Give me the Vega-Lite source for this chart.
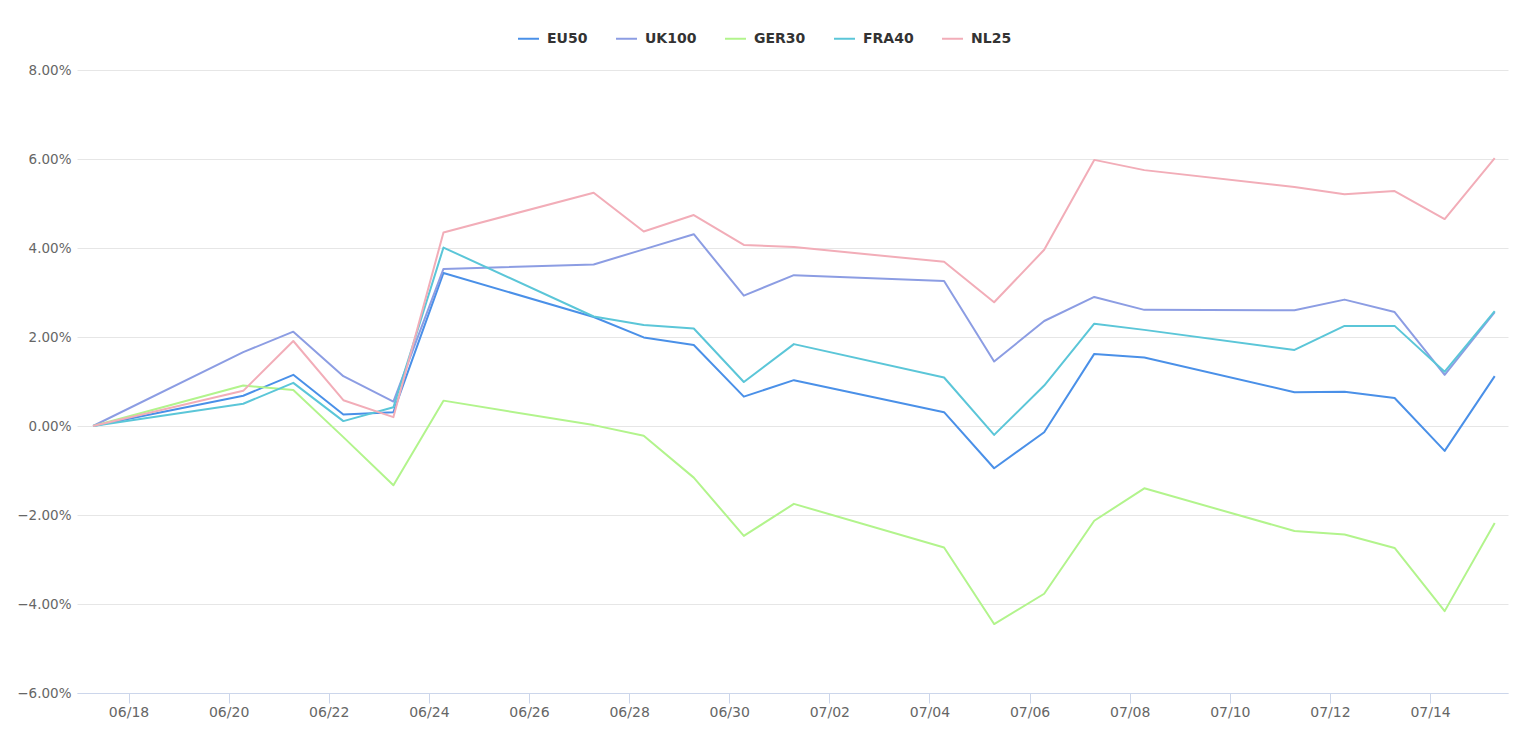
{
  "$schema": "https://vega.github.io/schema/vega-lite/v6.json",
  "autosize": "none",
  "width": 1431,
  "height": 623,
  "padding": {"left": 77, "top": 70, "right": 22, "bottom": 59},
  "background": "#ffffff",
  "data": {
    "values": [
      {"date": "2022-06-17T07:00", "series": "EU50", "value": 0},
      {"date": "2022-06-20T07:00", "series": "EU50", "value": 0.68},
      {"date": "2022-06-21T07:00", "series": "EU50", "value": 1.15},
      {"date": "2022-06-22T07:00", "series": "EU50", "value": 0.26},
      {"date": "2022-06-23T07:00", "series": "EU50", "value": 0.31},
      {"date": "2022-06-24T07:00", "series": "EU50", "value": 3.44},
      {"date": "2022-06-27T07:00", "series": "EU50", "value": 2.45},
      {"date": "2022-06-28T07:00", "series": "EU50", "value": 1.99},
      {"date": "2022-06-29T07:00", "series": "EU50", "value": 1.82},
      {"date": "2022-06-30T07:00", "series": "EU50", "value": 0.66},
      {"date": "2022-07-01T07:00", "series": "EU50", "value": 1.03},
      {"date": "2022-07-04T07:00", "series": "EU50", "value": 0.31},
      {"date": "2022-07-05T07:00", "series": "EU50", "value": -0.95},
      {"date": "2022-07-06T07:00", "series": "EU50", "value": -0.14},
      {"date": "2022-07-07T07:00", "series": "EU50", "value": 1.62},
      {"date": "2022-07-08T07:00", "series": "EU50", "value": 1.54},
      {"date": "2022-07-11T07:00", "series": "EU50", "value": 0.76},
      {"date": "2022-07-12T07:00", "series": "EU50", "value": 0.77},
      {"date": "2022-07-13T07:00", "series": "EU50", "value": 0.63},
      {"date": "2022-07-14T07:00", "series": "EU50", "value": -0.56},
      {"date": "2022-07-15T07:00", "series": "EU50", "value": 1.12},

      {"date": "2022-06-17T07:00", "series": "UK100", "value": 0},
      {"date": "2022-06-20T07:00", "series": "UK100", "value": 1.66},
      {"date": "2022-06-21T07:00", "series": "UK100", "value": 2.12},
      {"date": "2022-06-22T07:00", "series": "UK100", "value": 1.12},
      {"date": "2022-06-23T07:00", "series": "UK100", "value": 0.55},
      {"date": "2022-06-24T07:00", "series": "UK100", "value": 3.53},
      {"date": "2022-06-27T07:00", "series": "UK100", "value": 3.63},
      {"date": "2022-06-28T07:00", "series": "UK100", "value": 3.97},
      {"date": "2022-06-29T07:00", "series": "UK100", "value": 4.31},
      {"date": "2022-06-30T07:00", "series": "UK100", "value": 2.93},
      {"date": "2022-07-01T07:00", "series": "UK100", "value": 3.39},
      {"date": "2022-07-04T07:00", "series": "UK100", "value": 3.26},
      {"date": "2022-07-05T07:00", "series": "UK100", "value": 1.45},
      {"date": "2022-07-06T07:00", "series": "UK100", "value": 2.36},
      {"date": "2022-07-07T07:00", "series": "UK100", "value": 2.90},
      {"date": "2022-07-08T07:00", "series": "UK100", "value": 2.61},
      {"date": "2022-07-11T07:00", "series": "UK100", "value": 2.60},
      {"date": "2022-07-12T07:00", "series": "UK100", "value": 2.84},
      {"date": "2022-07-13T07:00", "series": "UK100", "value": 2.56},
      {"date": "2022-07-14T07:00", "series": "UK100", "value": 1.15},
      {"date": "2022-07-15T07:00", "series": "UK100", "value": 2.56},

      {"date": "2022-06-17T07:00", "series": "GER30", "value": 0},
      {"date": "2022-06-20T07:00", "series": "GER30", "value": 0.91},
      {"date": "2022-06-21T07:00", "series": "GER30", "value": 0.81},
      {"date": "2022-06-22T07:00", "series": "GER30", "value": -0.25},
      {"date": "2022-06-23T07:00", "series": "GER30", "value": -1.33},
      {"date": "2022-06-24T07:00", "series": "GER30", "value": 0.57},
      {"date": "2022-06-27T07:00", "series": "GER30", "value": 0.02},
      {"date": "2022-06-28T07:00", "series": "GER30", "value": -0.22},
      {"date": "2022-06-29T07:00", "series": "GER30", "value": -1.16},
      {"date": "2022-06-30T07:00", "series": "GER30", "value": -2.47},
      {"date": "2022-07-01T07:00", "series": "GER30", "value": -1.75},
      {"date": "2022-07-04T07:00", "series": "GER30", "value": -2.73},
      {"date": "2022-07-05T07:00", "series": "GER30", "value": -4.45},
      {"date": "2022-07-06T07:00", "series": "GER30", "value": -3.77},
      {"date": "2022-07-07T07:00", "series": "GER30", "value": -2.13},
      {"date": "2022-07-08T07:00", "series": "GER30", "value": -1.40},
      {"date": "2022-07-11T07:00", "series": "GER30", "value": -2.36},
      {"date": "2022-07-12T07:00", "series": "GER30", "value": -2.44},
      {"date": "2022-07-13T07:00", "series": "GER30", "value": -2.74},
      {"date": "2022-07-14T07:00", "series": "GER30", "value": -4.16},
      {"date": "2022-07-15T07:00", "series": "GER30", "value": -2.18},

      {"date": "2022-06-17T07:00", "series": "FRA40", "value": 0},
      {"date": "2022-06-20T07:00", "series": "FRA40", "value": 0.50},
      {"date": "2022-06-21T07:00", "series": "FRA40", "value": 0.97},
      {"date": "2022-06-22T07:00", "series": "FRA40", "value": 0.11},
      {"date": "2022-06-23T07:00", "series": "FRA40", "value": 0.42},
      {"date": "2022-06-24T07:00", "series": "FRA40", "value": 4.01},
      {"date": "2022-06-27T07:00", "series": "FRA40", "value": 2.46},
      {"date": "2022-06-28T07:00", "series": "FRA40", "value": 2.27},
      {"date": "2022-06-29T07:00", "series": "FRA40", "value": 2.19},
      {"date": "2022-06-30T07:00", "series": "FRA40", "value": 0.99},
      {"date": "2022-07-01T07:00", "series": "FRA40", "value": 1.84},
      {"date": "2022-07-04T07:00", "series": "FRA40", "value": 1.09},
      {"date": "2022-07-05T07:00", "series": "FRA40", "value": -0.20},
      {"date": "2022-07-06T07:00", "series": "FRA40", "value": 0.91},
      {"date": "2022-07-07T07:00", "series": "FRA40", "value": 2.30},
      {"date": "2022-07-08T07:00", "series": "FRA40", "value": 2.16},
      {"date": "2022-07-11T07:00", "series": "FRA40", "value": 1.71},
      {"date": "2022-07-12T07:00", "series": "FRA40", "value": 2.25},
      {"date": "2022-07-13T07:00", "series": "FRA40", "value": 2.25},
      {"date": "2022-07-14T07:00", "series": "FRA40", "value": 1.22},
      {"date": "2022-07-15T07:00", "series": "FRA40", "value": 2.58},

      {"date": "2022-06-17T07:00", "series": "NL25", "value": 0},
      {"date": "2022-06-20T07:00", "series": "NL25", "value": 0.79},
      {"date": "2022-06-21T07:00", "series": "NL25", "value": 1.91},
      {"date": "2022-06-22T07:00", "series": "NL25", "value": 0.58},
      {"date": "2022-06-23T07:00", "series": "NL25", "value": 0.20},
      {"date": "2022-06-24T07:00", "series": "NL25", "value": 4.35},
      {"date": "2022-06-27T07:00", "series": "NL25", "value": 5.24},
      {"date": "2022-06-28T07:00", "series": "NL25", "value": 4.37},
      {"date": "2022-06-29T07:00", "series": "NL25", "value": 4.74},
      {"date": "2022-06-30T07:00", "series": "NL25", "value": 4.07},
      {"date": "2022-07-01T07:00", "series": "NL25", "value": 4.02},
      {"date": "2022-07-04T07:00", "series": "NL25", "value": 3.69},
      {"date": "2022-07-05T07:00", "series": "NL25", "value": 2.78},
      {"date": "2022-07-06T07:00", "series": "NL25", "value": 3.96},
      {"date": "2022-07-07T07:00", "series": "NL25", "value": 5.98},
      {"date": "2022-07-08T07:00", "series": "NL25", "value": 5.75},
      {"date": "2022-07-11T07:00", "series": "NL25", "value": 5.37},
      {"date": "2022-07-12T07:00", "series": "NL25", "value": 5.21},
      {"date": "2022-07-13T07:00", "series": "NL25", "value": 5.28},
      {"date": "2022-07-14T07:00", "series": "NL25", "value": 4.65},
      {"date": "2022-07-15T07:00", "series": "NL25", "value": 6.02}
    ]
  },
  "mark": {"type": "line", "strokeWidth": 2, "strokeJoin": "round"},
  "encoding": {
    "x": {
      "field": "date",
      "type": "temporal",
      "scale": {
        "domain": [
          {"year": 2022, "month": 6, "date": 16, "hours": 23, "minutes": 18},
          {"year": 2022, "month": 7, "date": 15, "hours": 13, "minutes": 22}
        ]
      },
      "axis": {
        "title": null,
        "format": "%m/%d",
        "values": [
          {"year": 2022, "month": 6, "date": 18},
          {"year": 2022, "month": 6, "date": 20},
          {"year": 2022, "month": 6, "date": 22},
          {"year": 2022, "month": 6, "date": 24},
          {"year": 2022, "month": 6, "date": 26},
          {"year": 2022, "month": 6, "date": 28},
          {"year": 2022, "month": 6, "date": 30},
          {"year": 2022, "month": 7, "date": 2},
          {"year": 2022, "month": 7, "date": 4},
          {"year": 2022, "month": 7, "date": 6},
          {"year": 2022, "month": 7, "date": 8},
          {"year": 2022, "month": 7, "date": 10},
          {"year": 2022, "month": 7, "date": 12},
          {"year": 2022, "month": 7, "date": 14}
        ],
        "grid": false,
        "domainColor": "#ccd6eb",
        "domainWidth": 1,
        "tickColor": "#ccd6eb",
        "tickSize": 10,
        "labelPadding": 2,
        "labelFont": "DejaVu Sans",
        "labelFontSize": 14,
        "labelColor": "#666666"
      }
    },
    "y": {
      "field": "value",
      "type": "quantitative",
      "scale": {"domain": [-6, 8], "nice": false, "zero": false},
      "axis": {
        "title": null,
        "values": [-6, -4, -2, 0, 2, 4, 6, 8],
        "labelExpr": "format(datum.value, '.2f') + '%'",
        "domain": false,
        "ticks": false,
        "labelPadding": 6,
        "gridColor": "#e6e6e6",
        "gridWidth": 1,
        "labelFont": "DejaVu Sans",
        "labelFontSize": 13.5,
        "labelColor": "#666666"
      }
    },
    "color": {
      "field": "series",
      "type": "nominal",
      "scale": {
        "domain": ["EU50", "UK100", "GER30", "FRA40", "NL25"],
        "range": ["#4a90e8", "#8c9de3", "#b2f48c", "#5bc6d8", "#f2adb8"]
      },
      "legend": {
        "title": null,
        "orient": "none",
        "direction": "horizontal",
        "legendX": 440,
        "legendY": -43,
        "symbolType": "stroke",
        "symbolSize": 440,
        "symbolStrokeWidth": 2,
        "labelFont": "DejaVu Sans",
        "labelFontSize": 14,
        "labelFontWeight": "bold",
        "labelColor": "#333333",
        "labelOffset": 7,
        "columnPadding": 24
      }
    }
  },
  "config": {"view": {"stroke": null}}
}
